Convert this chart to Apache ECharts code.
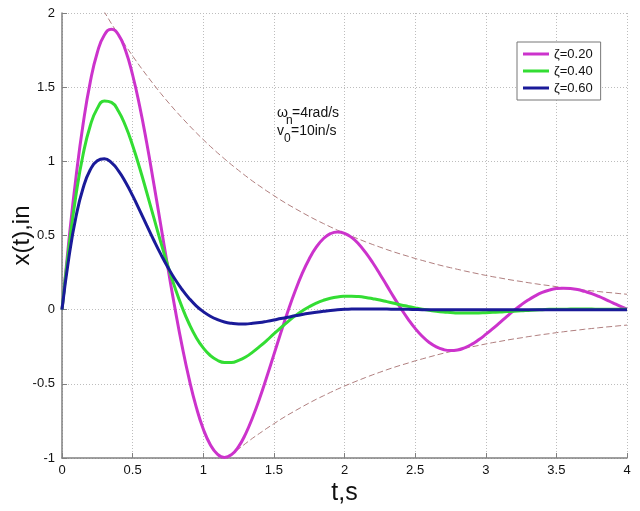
<!DOCTYPE html>
<html>
<head>
<meta charset="utf-8">
<script src="https://cdn.jsdelivr.net/npm/echarts@6/dist/echarts.min.js"></script>
<style>
  html, body { margin: 0; padding: 0; background: #fff; }
</style>
</head>
<body>
<div id="myChart" style="width: 640px; height: 511px;"></div>
<script>
// time samples, every 0.05 s from 0 to 4
var times = [];
for (var i = 0; i <= 80; i++) times.push(+(i * 0.05).toFixed(2));

var seriesNames = ["\u03b6=0.20", "\u03b6=0.40", "\u03b6=0.60"];

// x(t), zeta = 0.20
var xZeta20 = [
  0, 0.477, 0.900, 1.255, 1.534, 1.734, 1.852, 1.890, 1.853, 1.747,
  1.582, 1.371, 1.123, 0.849, 0.565, 0.281, 0.008, -0.244, -0.467, -0.655,
  -0.804, -0.910, -0.974, -0.996, -0.977, -0.923, -0.837, -0.725, -0.596, -0.452,
  -0.303, -0.153, -0.009, 0.124, 0.243, 0.342, 0.421, 0.478, 0.512, 0.524,
  0.515, 0.487, 0.443, 0.384, 0.316, 0.241, 0.162, 0.083, 0.007, -0.063,
  -0.126, -0.179, -0.221, -0.251, -0.269, -0.276, -0.272, -0.257, -0.234, -0.203,
  -0.167, -0.128, -0.087, -0.045, -0.005, 0.032, 0.065, 0.093, 0.116, 0.132,
  0.142, 0.145, 0.143, 0.136, 0.123, 0.108, 0.089, 0.068, 0.046, 0.024,
  0.003
];

// zeta = 0.40
var xZeta40 = [
  0, 0.429, 0.779, 1.049, 1.240, 1.357, 1.407, 1.397, 1.338, 1.238,
  1.107, 0.955, 0.790, 0.620, 0.453, 0.294, 0.147, 0.017, -0.095, -0.187,
  -0.258, -0.309, -0.341, -0.356, -0.356, -0.342, -0.319, -0.286, -0.248, -0.207,
  -0.163, -0.121, -0.080, -0.042, -0.009, 0.020, 0.044, 0.063, 0.077, 0.086,
  0.090, 0.091, 0.088, 0.082, 0.074, 0.065, 0.054, 0.043, 0.032, 0.022,
  0.012, 0.003, -0.004, -0.011, -0.016, -0.019, -0.022, -0.022, -0.022, -0.022,
  -0.020, -0.018, -0.016, -0.013, -0.010, -0.008, -0.005, -0.002, 0.000, 0.002,
  0.003, 0.003, 0.004, 0.004, 0.004, 0.004, 0.003, 0.003, 0.003, 0.002,
  0.002
];

// zeta = 0.60
var xZeta60 = [
  0, 0.360, 0.631, 0.822, 0.943, 1.004, 1.017, 0.991, 0.936, 0.859,
  0.769, 0.670, 0.568, 0.468, 0.373, 0.285, 0.205, 0.136, 0.076, 0.026,
  -0.013, -0.044, -0.067, -0.083, -0.092, -0.096, -0.096, -0.092, -0.087, -0.079,
  -0.070, -0.060, -0.051, -0.041, -0.032, -0.024, -0.017, -0.011, -0.005, -0.001,
  0.002, 0.004, 0.005, 0.005, 0.005, 0.004, 0.004, 0.003, 0.002, 0.002,
  0.001, 0, 0, 0, 0, 0, 0, 0, 0, 0,
  0, 0, 0, 0, 0, 0, 0, 0, 0, 0,
  0, 0, 0, 0, 0, 0, 0, 0, 0, 0,
  0
];

// upper decay envelope (dashed), lower one is its mirror
var envelope = [
  2.552, 2.451, 2.355, 2.263, 2.174, 2.089, 2.007, 1.928, 1.853, 1.780,
  1.710, 1.643, 1.579, 1.517, 1.457, 1.400, 1.345, 1.293, 1.242, 1.193,
  1.146, 1.101, 1.058, 1.017, 0.977, 0.939, 0.902, 0.866, 0.833, 0.800,
  0.769, 0.738, 0.709, 0.682, 0.655, 0.629, 0.604, 0.581, 0.558, 0.536,
  0.515, 0.495, 0.476, 0.457, 0.439, 0.422, 0.405, 0.389, 0.374, 0.360,
  0.345, 0.332, 0.319, 0.306, 0.294, 0.283, 0.272, 0.261, 0.251, 0.241,
  0.231, 0.222, 0.214, 0.205, 0.197, 0.190, 0.182, 0.175, 0.168, 0.162,
  0.155, 0.149, 0.143, 0.138, 0.132, 0.127, 0.122, 0.117, 0.113, 0.108,
  0.104
];

var xTicks = [0, 0.5, 1, 1.5, 2, 2.5, 3, 3.5, 4];
var yTicks = [-1, -0.5, 0, 0.5, 1, 1.5, 2];

function pairs(ys, sign) {
  return times.map(function (t, i) { return [t, (sign || 1) * ys[i]]; });
}

var font = "'Liberation Sans', Arial, sans-serif";
var myChart = echarts.init(document.getElementById("myChart"));

var curveColors = ["#cc33cc", "#33dd33", "#1a1a99"];
var curves = [xZeta20, xZeta40, xZeta60];

var series = [
  {
    type: "line", data: pairs(envelope), showSymbol: false, silent: true,
    lineStyle: { color: "#b07f7f", width: 1, type: [6, 3] }
  },
  {
    type: "line", data: pairs(envelope, -1), showSymbol: false, silent: true,
    lineStyle: { color: "#b07f7f", width: 1, type: [6, 3] }
  }
];
curves.forEach(function (c, i) {
  series.push({
    name: seriesNames[i],
    type: "line",
    data: pairs(c),
    showSymbol: false,
    smooth: true,
    color: curveColors[i],
    lineStyle: { color: curveColors[i], width: 3 }
  });
});

myChart.setOption({
  animation: false,
  backgroundColor: "#fff",
  textStyle: { fontFamily: font },
  grid: { left: 62, right: 13, top: 13, bottom: 53, outerBoundsMode: "none" },
  legend: {
    data: seriesNames,
    orient: "vertical",
    left: 517,
    top: 42,
    padding: [5, 8, 5, 6],
    itemGap: 3,
    itemWidth: 26,
    itemHeight: 3,
    icon: "rect",
    backgroundColor: "#fff",
    borderColor: "#777",
    borderWidth: 1,
    borderRadius: 0,
    textStyle: { fontSize: 13, lineHeight: 14, color: "#111", fontFamily: font }
  },
  xAxis: {
    type: "value",
    min: 0,
    max: 4,
    interval: 0.5,
    name: "t,s",
    nameLocation: "middle",
    nameGap: 23,
    nameMoveOverlap: false,
    nameTextStyle: { fontSize: 25, color: "#111", fontFamily: font },
    axisLine: { onZero: false, lineStyle: { color: "#808080", width: 1.5 } },
    axisTick: { inside: true, length: 5, lineStyle: { color: "#808080" } },
    axisLabel: {
      color: "#111", fontSize: 13, margin: 6,
      formatter: function (v) { return xTicks.indexOf(v) >= 0 ? String(v) : ""; }
    },
    splitLine: { show: true, lineStyle: { color: "#bdbdbd", type: [1, 2] } }
  },
  yAxis: {
    type: "value",
    min: -1,
    max: 2,
    interval: 0.5,
    name: "x(t),in",
    nameLocation: "middle",
    nameGap: 28,
    nameMoveOverlap: false,
    nameRotate: 90,
    nameTextStyle: { fontSize: 24, color: "#111", fontFamily: font },
    axisLine: { show: true, onZero: false, lineStyle: { color: "#808080", width: 1.5 } },
    axisTick: { show: true, inside: true, length: 5, lineStyle: { color: "#808080" } },
    axisLabel: {
      color: "#111", fontSize: 13, margin: 7,
      formatter: function (v) { return yTicks.indexOf(v) >= 0 ? String(v) : ""; }
    },
    splitLine: { show: true, lineStyle: { color: "#bdbdbd", type: [1, 2] } }
  },
  graphic: [
    { type: "text", left: 277, top: 106, style: { text: "\u03c9", fontSize: 14, fill: "#111", fontFamily: font } },
    { type: "text", left: 286, top: 115, style: { text: "n", fontSize: 12, fill: "#111", fontFamily: font } },
    { type: "text", left: 292, top: 106, style: { text: "=4rad/s", fontSize: 14, fill: "#111", fontFamily: font } },
    { type: "text", left: 277, top: 124, style: { text: "v", fontSize: 14, fill: "#111", fontFamily: font } },
    { type: "text", left: 284, top: 133, style: { text: "0", fontSize: 12, fill: "#111", fontFamily: font } },
    { type: "text", left: 291, top: 124, style: { text: "=10in/s", fontSize: 14, fill: "#111", fontFamily: font } }
  ],
  series: series
});
</script>
</body>
</html>
